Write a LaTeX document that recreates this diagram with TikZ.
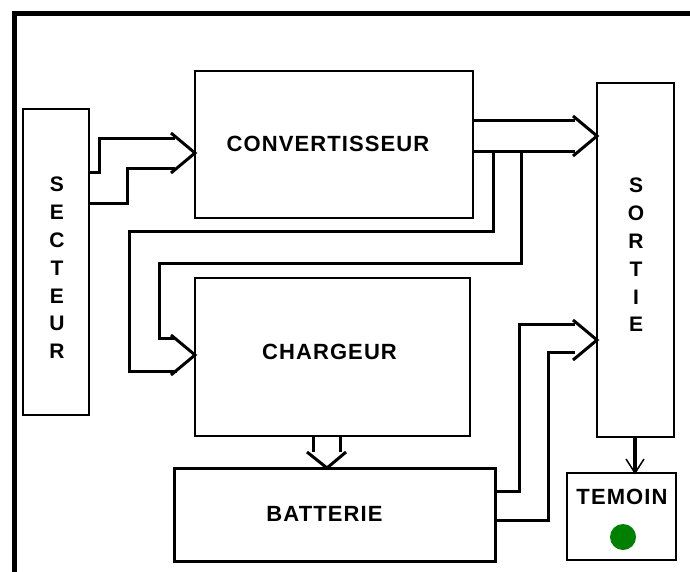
\documentclass[tikz,border=0pt]{standalone}
\usepackage{fontspec}
\setmainfont{Liberation Sans}
\usetikzlibrary{calc}
\newcommand\dchevR[1]{\draw[conn] ($(#1)+(-24,-20)$) -- (#1) -- ($(#1)+(-24,20)$);}
\newcommand\dchevD[1]{\draw[conn] ($(#1)+(-20,-16)$) -- (#1) -- ($(#1)+(19,-16)$);}
\begin{document}
\begin{tikzpicture}[x=1pt,y=-1pt,
  box/.style={draw, line width=1.5pt, inner sep=0pt, outer sep=0pt, fill=white},
  conn/.style={line width=3pt, line join=miter},
  lbl/.style={inner sep=0pt, font=\fontsize{22}{26}\selectfont\bfseries\addfontfeatures{LetterSpace=5}},
  vlbl/.style={inner sep=0pt, align=center, anchor=north, font=\fontsize{21}{27.8}\selectfont\bfseries}]
\clip (0,0) rectangle (690,572);
\fill[white] (0,0) rectangle (690,572);
% frame
\draw[line width=5pt, line join=miter] (14,600) -- (14,13.5) -- (720,13.5);
% boxes
\node[box, minimum width=66pt, minimum height=306pt] (secteur) at (56,262) {};
\node[box, minimum width=278pt, minimum height=147pt] (conv) at (334,144.5) {};
\node[box, minimum width=77pt, minimum height=354pt] (sortie) at (635.5,260) {};
\node[box, minimum width=275pt, minimum height=158pt] (charg) at (332.5,357) {};
\node[box, line width=3pt, minimum width=321pt, minimum height=93pt] (batt) at (334.5,514.5) {};
\node[box, line width=2pt, minimum width=109pt, minimum height=87pt] (temoin) at (621.5,516.5) {};
% labels
\node[vlbl] (tsect) at (57,177) {S\\E\\C\\T\\E\\U\\R};
\node[vlbl] (tsort) at (636,178) {S\\O\\R\\T\\I\\E};
\node[lbl] (tconv) at (328,144) {CONVERTISSEUR};
\node[lbl] (tchar) at (329.5,352) {CHARGEUR};
\node[lbl] (tbatt) at (324.5,514) {BATTERIE};
\node[lbl] (ttem) at (622,497) {TEMOIN};
\fill[fill={rgb,255:red,0;green,128;blue,0}] (623,537) circle[radius=13pt];
% tips
\coordinate (t1) at (conv.west |- 0,153);
\coordinate (t2) at (sortie.west |- 0,136);
\coordinate (t3) at (charg.west |- 0,355);
\coordinate (t4) at (327,0 |- batt.north);
\coordinate (t5) at (sortie.west |- 0,340);
\coordinate (lo) at (conv.east |- 0,152);
% secteur -> convertisseur
\draw[conn] (secteur.east |- 0,173) -| (99,139) -- ($(t1)+(-20,-14)$);
\draw[conn] (secteur.east |- 0,203) -| (127,169) -- ($(t1)+(-20,16)$);
\dchevR{t1}
% convertisseur -> sortie
\draw[conn] (conv.east |- 0,121) -- ($(t2)+(-22,-15)$);
\draw[conn] (lo) -- ($(t2)+(-22,16)$);
\dchevR{t2}
% convertisseur -> chargeur
\draw[conn] ($(lo)+(20,0)$) -- (493,231) -| (129,371) -- ($(t3)+(-18,16)$);
\draw[conn] ($(lo)+(48,0)$) -- (521,263) -| (159,338) -- ($(t3)+(-20,-17)$);
\dchevR{t3}
% chargeur -> batterie
\draw[conn] (charg.south -| 313,0) -- ($(t4)+(-14,-16)$);
\draw[conn] (charg.south -| 340,0) -- ($(t4)+(13,-16)$);
\dchevD{t4}
% batterie -> sortie
\draw[conn] (batt.east |- 0,491) -| (519,324) -- ($(t5)+(-22,-16)$);
\draw[conn] (batt.east |- 0,520) -| (548,352) -- ($(t5)+(-22,12)$);
\dchevR{t5}
% sortie -> temoin
\coordinate (t6) at (635,0 |- temoin.north);
\draw[line width=4pt] (sortie.south -| 635,0) -- (t6);
\draw[line width=1.5pt] ($(t6)+(-9,-14)$) -- (t6) -- ($(t6)+(9,-14)$);
\end{tikzpicture}
\end{document}
